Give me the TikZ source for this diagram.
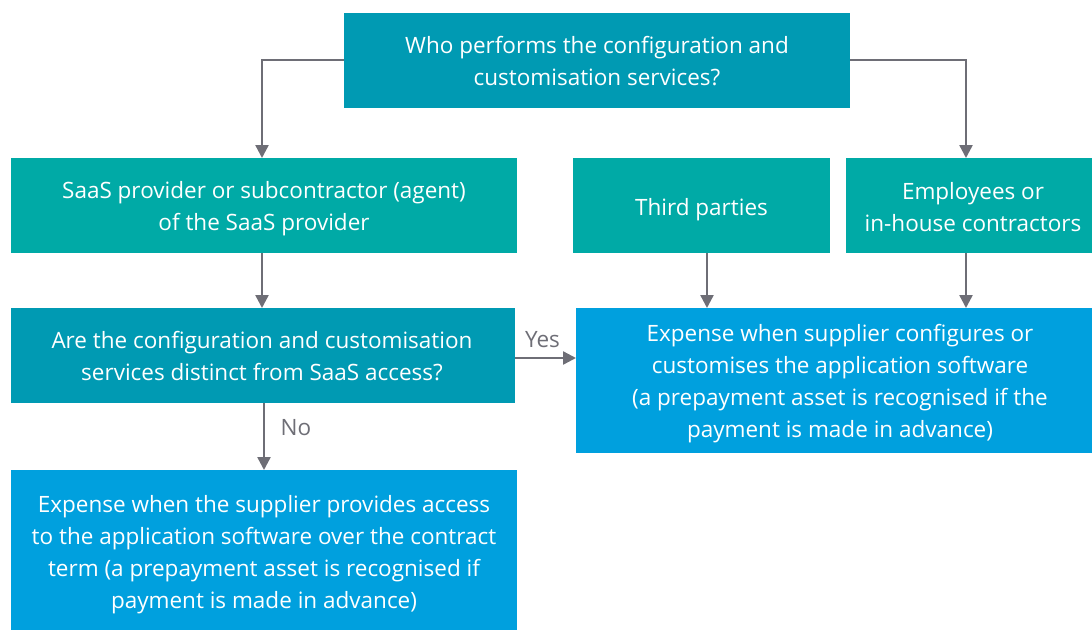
\documentclass[tikz,border=0pt]{standalone}
\usepackage{fontspec}
\setmainfont{Open Sans}
\usetikzlibrary{arrows.meta}
\definecolor{darkteal}{RGB}{0,154,179}
\definecolor{teal2}{RGB}{0,170,166}
\definecolor{skyblue}{RGB}{0,160,222}
\definecolor{linegray}{RGB}{110,110,118}
\begin{document}
\begin{tikzpicture}[x=1pt,y=-1pt,
  box/.style={draw=none,inner sep=0pt,text=white,align=center,
    font=\fontsize{22.5}{32}\selectfont},
  conn/.style={draw=linegray,line width=2.4pt,-{Triangle[length=13pt,width=13pt]}},
  lbl/.style={text=linegray,font=\fontsize{22.5}{26}\selectfont}]
\useasboundingbox (0,0) rectangle (1092,630);
% boxes
\fill[darkteal] (344,13) rectangle (850,108);
\node[box] (q1) at (597,61.5) {Who performs the configuration and\\customisation services?};
\fill[teal2] (11,158) rectangle (517,253);
\node[box] (saas) at (264,208.5) {SaaS provider or subcontractor (agent)\\of the SaaS provider};
\fill[teal2] (573,158) rectangle (830,253);
\node[box] (third) at (701.5,209.5) {Third parties};
\fill[teal2] (846,158) rectangle (1092,253);
\node[box] (emp) at (973,207) {Employees or\\in-house contractors};
\fill[darkteal] (11,308) rectangle (515,403);
\node[box] (q2) at (262,356.5) {Are the configuration and customisation\\services distinct from SaaS access?};
\fill[skyblue] (576,308) rectangle (1092,453);
\node[box] (expR) at (840,383.5) {Expense when supplier configures or\\customises the application software\\(a prepayment asset is recognised if the\\payment is made in advance)};
\fill[skyblue] (11,470) rectangle (517,630);
\node[box] (expB) at (264,555) {Expense when the supplier provides access\\to the application software over the contract\\term (a prepayment asset is recognised if\\payment is made in advance)};
% anchor points on box edges
\coordinate (q1L) at (344,60);
\coordinate (q1R) at (850,60);
\coordinate (saasT) at (262,158);
\coordinate (saasB) at (262,253);
\coordinate (empT) at (966,158);
\coordinate (empB) at (966,253);
\coordinate (thirdB) at (707,253);
\coordinate (q2T) at (262,308);
\coordinate (q2R) at (515,358);
\coordinate (q2B) at (264,403);
\coordinate (expRL) at (576,358);
\coordinate (expRT1) at (707,308);
\coordinate (expRT2) at (966,308);
\coordinate (expBT) at (264,470);
% connectors
\draw[conn] (q1L) -| (saasT);
\draw[conn] (q1R) -| (empT);
\draw[conn] (saasB) -- (q2T);
\draw[conn] (thirdB) -- (expRT1);
\draw[conn] (empB) -- (expRT2);
\draw[conn] (q2R) -- node[lbl,above=6pt,pos=0.45] (yes) {Yes} (expRL);
\draw[conn] (q2B) -- node[lbl,right=12pt,pos=0.36] (no) {No} (expBT);
\end{tikzpicture}
\end{document}
